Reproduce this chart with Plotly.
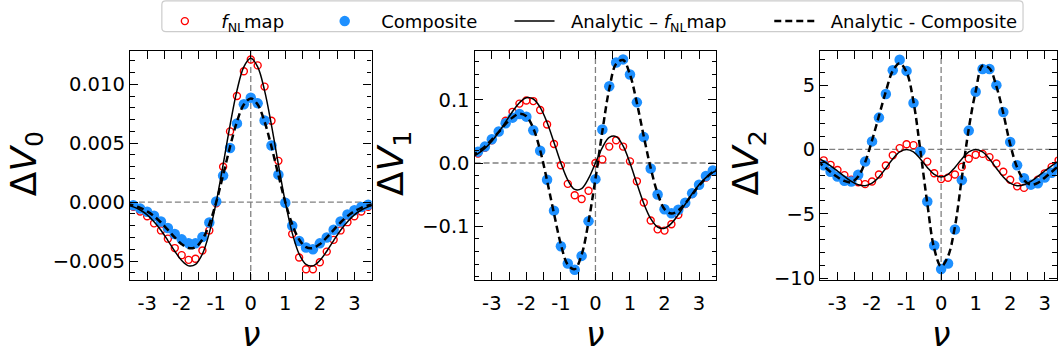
import numpy as np
import plotly.graph_objects as go

# ---------------- data ----------------
NU_PTS = np.round(np.arange(-3.4, 3.41, 0.2), 1)     # measured nu values
NU_LINE = np.round(np.arange(-3.6, 3.61, 0.2), 1)    # analytic curve nu grid
X_TICKS = [-3, -2, -1, 0, 1, 2, 3]
X_TICK_LABELS = ["-3", "-2", "-1", "0", "1", "2", "3"]

# Delta V0
V0_FNL = [-0.0004, -0.0008, -0.0012, -0.0018, -0.0024, -0.0031, -0.0039, -0.0045, -0.0049,
          -0.0048, -0.0041, -0.0024, -0.0001, 0.0030, 0.0060, 0.0090, 0.0111, 0.0121,
          0.0116, 0.0098, 0.0069, 0.0035, 0.0000, -0.0027, -0.0047, -0.0057, -0.0057,
          -0.0051, -0.0042, -0.0032, -0.0024, -0.0017, -0.0012, -0.0008, -0.0004]
V0_COMP = [-0.00027, -0.00055, -0.00082, -0.00115, -0.00165, -0.0022, -0.0027, -0.00316,
           -0.00349, -0.0035, -0.00297, -0.00173, 0.00006, 0.00225, 0.00459, 0.00668,
           0.0083, 0.00885, 0.00838, 0.00693, 0.0048, 0.00233, -0.00006, -0.002, -0.0033,
           -0.00385, -0.004, -0.0035, -0.003, -0.00234, -0.00165, -0.00104, -0.00069,
           -0.00041, -0.00022]
V0_AN_FNL = [-0.00022, -0.00040, -0.00067, -0.00108, -0.00166, -0.00239, -0.00326, -0.00417,
             -0.00495, -0.00541, -0.00529, -0.00440, -0.00261, 0.0, 0.00319, 0.00652, 0.00946,
             0.01148, 0.01220, 0.01148, 0.00946, 0.00652, 0.00319, 0.0, -0.00261, -0.00440,
             -0.00529, -0.00541, -0.00495, -0.00417, -0.00326, -0.00239, -0.00166, -0.00108,
             -0.00067, -0.00040, -0.00022]
V0_AN_COMP = [-0.00016, -0.00029, -0.00049, -0.00078, -0.00119, -0.00173, -0.00235, -0.00300,
              -0.00357, -0.00390, -0.00382, -0.00317, -0.00188, 0.0, 0.00230, 0.00470, 0.00682,
              0.00828, 0.00880, 0.00828, 0.00682, 0.00470, 0.00230, 0.0, -0.00188, -0.00317,
              -0.00382, -0.00390, -0.00357, -0.00300, -0.00235, -0.00173, -0.00119, -0.00078,
              -0.00049, -0.00029, -0.00016]

# Delta V1
V1_FNL = [0.015, 0.024, 0.036, 0.050, 0.067, 0.081, 0.094, 0.099, 0.098, 0.084, 0.061, 0.030,
          -0.0035, -0.033, -0.051, -0.057, -0.044, 0.000, 0.0057, 0.026, 0.036, 0.026, 0.0026,
          -0.029, -0.0625, -0.091, -0.105, -0.107, -0.097, -0.082, -0.065, -0.049, -0.035,
          -0.023, -0.014]
V1_COMP = [0.018, 0.026, 0.0375, 0.050, 0.063, 0.0718, 0.0775, 0.0734, 0.0518, 0.0195, -0.0266,
           -0.0754, -0.1317, -0.159, -0.169, -0.147, -0.092, -0.0255, 0.053, 0.1215, 0.159,
           0.164, 0.140, 0.096, 0.041, -0.0086, -0.0497, -0.0733, -0.0794, -0.074, -0.063,
           -0.0477, -0.0343, -0.0205, -0.0117]
V1_AN_FNL = [0.0090, 0.0150, 0.0232, 0.0345, 0.0487, 0.0650, 0.0815, 0.0955, 0.1033, 0.1013,
             0.0881, 0.0641, 0.0326, 0.0, -0.0270, -0.0418, -0.0405, -0.0245, 0.0, 0.0245,
             0.0405, 0.0418, 0.0270, 0.0, -0.0326, -0.0641, -0.0881, -0.1013, -0.1033, -0.0955,
             -0.0815, -0.0650, -0.0487, -0.0345, -0.0232, -0.0150, -0.0090]
V1_AN_COMP = [0.010, 0.018, 0.026, 0.037, 0.049, 0.062, 0.072, 0.078, 0.074, 0.055, 0.020,
              -0.028, -0.080, -0.129, -0.161, -0.168, -0.145, -0.093, -0.025, 0.050, 0.117,
              0.157, 0.163, 0.140, 0.095, 0.042, -0.008, -0.048, -0.073, -0.080, -0.075,
              -0.064, -0.050, -0.036, -0.024, -0.014, -0.008]

# Delta V2
V2_FNL = [-0.85, -1.2, -1.6, -2.0, -2.35, -2.55, -2.7, -2.5, -1.95, -1.25, -0.45, 0.1, 0.4,
          0.33, -0.1, -0.95, -1.85, -2.3, -2.2, -1.95, -1.36, -0.73, -0.42, -0.35, -0.6, -1.1,
          -1.74, -2.36, -2.87, -2.99, -2.74, -2.36, -1.86, -1.36, -0.85]
V2_COMP = [-1.23, -1.74, -2.11, -2.44, -2.5, -1.97, -0.95, 0.62, 2.47, 4.3, 6.15, 6.97, 6.1,
           3.6, -0.15, -4.05, -7.46, -9.3, -8.86, -6.22, -2.39, 1.46, 4.48, 6.25, 6.25, 4.99,
           2.9, 0.58, -1.23, -2.24, -2.74, -2.64, -2.19, -1.81, -1.38]
V2_AN_FNL = [-0.62, -0.92, -1.28, -1.68, -2.10, -2.48, -2.74, -2.82, -2.62, -2.14, -1.46, -0.74,
             -0.20, 0.0, -0.20, -0.74, -1.40, -1.94, -2.15, -1.94, -1.40, -0.74, -0.20, 0.0,
             -0.20, -0.74, -1.46, -2.14, -2.62, -2.82, -2.74, -2.48, -2.10, -1.68, -1.28,
             -0.92, -0.62]
V2_AN_COMP = [-0.9, -1.3, -1.75, -2.15, -2.45, -2.55, -2.1, -1.0, 0.7, 2.6, 4.5, 6.1, 6.7, 6.0,
              3.7, -0.1, -4.2, -7.7, -9.1, -8.3, -6.0, -2.2, 1.6, 4.5, 6.5, 6.3, 4.9, 2.8, 0.4,
              -1.4, -2.4, -2.75, -2.6, -2.2, -1.75, -1.3, -0.9]

NBSP = "\u00a0"
LEGEND_NAMES = [NBSP * 2 + "<i>f</i><sub>NL</sub>map", NBSP * 2 + "Composite",
                NBSP * 2 + "Analytic – <i>f</i><sub>NL</sub>map", NBSP * 2 + "Analytic - Composite"]

# ---------------- layout helpers ----------------
W, H = 1058, 356
TOP, BOTTOM = 52, 288


def fx(p):
    return p / W


def fy(p):
    return 1 - p / H


panels = [
    dict(fnl=V0_FNL, comp=V0_COMP, afnl=V0_AN_FNL, acomp=V0_AN_COMP,
         xpx=(130, 372), xr=[-3.5, 3.5], yr=[-0.0066, 0.01286],
         ytv=[-0.005, 0.0, 0.005, 0.010], ytt=["−0.005", "0.000", "0.005", "0.010"],
         ymin=0.001, title="Δ<i>V</i><sub>0</sub>", tx=26),
    dict(fnl=V1_FNL, comp=V1_COMP, afnl=V1_AN_FNL, acomp=V1_AN_COMP,
         xpx=(475, 717), xr=[-3.5, 3.5], yr=[-0.185, 0.178],
         ytv=[-0.1, 0.0, 0.1], ytt=["−0.1", "0.0", "0.1"],
         ymin=0.02, title="Δ<i>V</i><sub>1</sub>", tx=394),
    dict(fnl=V2_FNL, comp=V2_COMP, afnl=V2_AN_FNL, acomp=V2_AN_COMP,
         xpx=(821, 1058), xr=[-3.5, 3.355], yr=[-10.14, 7.68],
         ytv=[-10, -5, 0, 5], ytt=["−10", "−5", "0", "5"],
         ymin=1, title="Δ<i>V</i><sub>2</sub>", tx=749),
]

fig = go.Figure()
FONT = "DejaVu Sans"
TICKFONT = dict(family=FONT, size=19.5, color="black")
BLUE = "#1E90FF"
LEG_KEYS = ["legend2", "legend3", "legend4", "legend5"]
LEG_SYMBOL_CENTER = [185, 345, 535, 795]   # px, where each legend symbol sits

annotations = []
shapes = []
for i, p in enumerate(panels):
    k = "" if i == 0 else str(i + 1)
    xa, ya = "x" + k, "y" + k
    show = i == 0
    styles = [
        dict(mode="markers", x=NU_PTS, y=p["fnl"],
             marker=dict(symbol="circle-open", size=7, color="red",
                         line=dict(width=1.4, color="red"))),
        dict(mode="markers", x=NU_PTS, y=p["comp"],
             marker=dict(symbol="circle", size=10.5, color=BLUE)),
        dict(mode="lines", x=NU_LINE, y=p["afnl"],
             line=dict(color="black", width=1.5, shape="spline")),
        dict(mode="lines", x=NU_LINE, y=p["acomp"],
             line=dict(color="black", width=2.5, dash="7px,4px", shape="spline")),
    ]
    for j, st in enumerate(styles):
        fig.add_trace(go.Scatter(xaxis=xa, yaxis=ya, name=LEGEND_NAMES[j],
                                 showlegend=show, legend=LEG_KEYS[j], **st))

    axis_common = dict(showline=True, linecolor="black", linewidth=1.3, mirror="ticks",
                       ticks="inside", ticklen=8, tickwidth=1.2, tickcolor="black",
                       showgrid=False, zeroline=False, tickfont=TICKFONT)
    fig.layout["xaxis" + k] = dict(axis_common, domain=[fx(p["xpx"][0]), fx(p["xpx"][1])],
                                   range=p["xr"], anchor=ya, tickmode="array",
                                   tickvals=X_TICKS, ticktext=X_TICK_LABELS,
                                   ticklabelstandoff=6,
                                   minor=dict(ticks="inside", ticklen=8, tickwidth=1.2,
                                              tickcolor="black", dtick=0.5, tick0=0,
                                              showgrid=False))
    fig.layout["yaxis" + k] = dict(axis_common, domain=[fy(BOTTOM), fy(TOP)], range=p["yr"],
                                   anchor=xa, tickmode="array", tickvals=p["ytv"],
                                   ticktext=p["ytt"],
                                   minor=dict(ticks="inside", ticklen=4.5, tickwidth=1.1,
                                              tickcolor="black", dtick=p["ymin"], tick0=0,
                                              showgrid=False))
    # gray reference lines
    shapes.append(dict(type="line", xref=xa + " domain", yref=ya, x0=0, x1=1, y0=0, y1=0,
                       line=dict(color="gray", width=1.3, dash="6px,3px"), layer="below"))
    shapes.append(dict(type="line", xref=xa, yref=ya + " domain", x0=0, x1=0, y0=0, y1=1,
                       line=dict(color="gray", width=1.3, dash="6px,3px"), layer="below"))
    # axis titles
    annotations.append(dict(text=p["title"], xref="paper", yref="paper", x=fx(p["tx"]),
                            y=fy(168), xanchor="center", yanchor="middle", textangle=-90,
                            showarrow=False, font=dict(family=FONT, size=36, color="black")))
    xc = p["xpx"][0] + 121
    annotations.append(dict(text="<i>ν</i>", xref="paper", yref="paper", x=fx(xc), y=fy(344),
                            xanchor="center", yanchor="middle", showarrow=False,
                            font=dict(family=FONT, size=33, color="black")))

# legend frame (rounded rectangle)
L, R, T, B, r = 162, 1024, 1, 32.5, 4
path = (f"M {fx(L + r)},{fy(T)} L {fx(R - r)},{fy(T)} Q {fx(R)},{fy(T)} {fx(R)},{fy(T + r)} "
        f"L {fx(R)},{fy(B - r)} Q {fx(R)},{fy(B)} {fx(R - r)},{fy(B)} "
        f"L {fx(L + r)},{fy(B)} Q {fx(L)},{fy(B)} {fx(L)},{fy(B - r)} "
        f"L {fx(L)},{fy(T + r)} Q {fx(L)},{fy(T)} {fx(L + r)},{fy(T)} Z")
shapes.append(dict(type="path", xref="paper", yref="paper", path=path,
                   line=dict(color="#cccccc", width=1.2), fillcolor="white", layer="below"))

fig.update_layout(
    width=W, height=H, margin=dict(l=0, r=0, t=0, b=0),
    paper_bgcolor="white", plot_bgcolor="white",
    font=dict(family=FONT, color="black"), showlegend=True,
    shapes=shapes, annotations=annotations,
)
for key, cx in zip(LEG_KEYS, LEG_SYMBOL_CENTER):
    fig.layout[key] = dict(orientation="h", x=fx(cx - 25), xanchor="left", y=fy(3),
                           yanchor="top", bgcolor="rgba(0,0,0,0)", borderwidth=0,
                           font=dict(family=FONT, size=18, color="black"), itemwidth=40)

fig.write_html("out.html")
